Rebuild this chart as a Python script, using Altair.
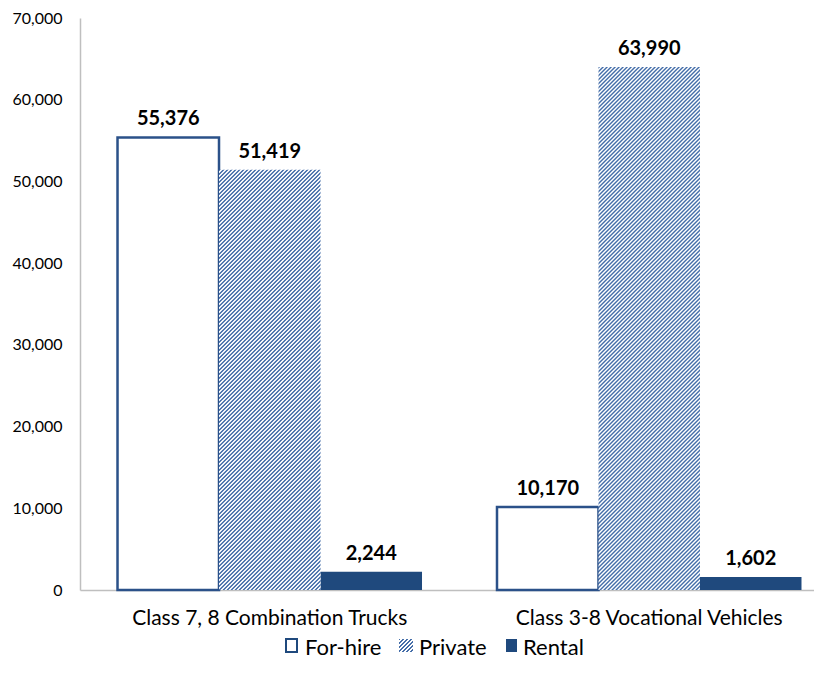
import altair as alt
import pandas as pd

categories = ["Class 7, 8 Combination Trucks", "Class 3-8 Vocational Vehicles"]
series = ["For-hire", "Private", "Rental"]
for_hire = [55376, 10170]
private = [51419, 63990]
rental = [2244, 1602]
y_ticks = [0, 10000, 20000, 30000, 40000, 50000, 60000, 70000]
y_max = 70000

W, H = 734, 572
P_IN, P_OUT, ALIGN = 0.1976, 0.0659, 0.75
DARK = "#1f497d"
OUTLINE = "#2b5189"
HATCH = "#456ea9"
FONT = "Lato"

rows = []
for i, c in enumerate(categories):
    for s, vals in zip(series, [for_hire, private, rental]):
        rows.append({"category": c, "series": s, "value": vals[i]})
df = pd.DataFrame(rows)


def hatch(w, h, period=4.0):
    # 45-degree "/" stripes: colour depends on (x + y) in pixels
    span = w + h
    s = span * w / (w * w + h * h)
    n = int(span / period) + 1
    stops = []
    for j in range(n + 1):
        base_px = j * period
        for frac, col in [(0.0, HATCH), (0.25, HATCH), (0.5, "white"), (0.75, "white")]:
            t = (base_px + frac * period) / span
            if t > 1:
                break
            stops.append({"offset": round(t, 6), "color": col})
    return {"gradient": "linear", "x1": 0, "y1": 0, "x2": s, "y2": s * h / w, "stops": stops}


x_enc = alt.X(
    "category:N",
    sort=categories,
    scale=alt.Scale(domain=categories, paddingInner=P_IN, paddingOuter=P_OUT, align=ALIGN),
    axis=alt.Axis(title=None),
)
xo_enc = alt.XOffset("series:N", scale=alt.Scale(domain=series, paddingInner=0, paddingOuter=0))
y_enc = alt.Y(
    "value:Q",
    scale=alt.Scale(domain=[0, y_max], nice=False),
    axis=alt.Axis(title=None, values=y_ticks, labelExpr="format(datum.value, ',')"),
)

base = alt.Chart(df).encode(x=x_enc, xOffset=xo_enc, y=y_enc)

bw = W * (1 - P_IN) / (2 - P_IN + 2 * P_OUT) / 3

layers = [
    base.transform_filter(alt.datum.series == "For-hire").mark_bar(
        fill="white", stroke=OUTLINE, strokeWidth=2.5),
    base.transform_filter(alt.datum.series == "Rental").mark_bar(fill=DARK),
]
for c, v in zip(categories, private):
    h = v / y_max * H
    layers.append(
        base.transform_filter((alt.datum.series == "Private") & (alt.datum.category == c))
        .mark_bar(fill=hatch(bw, h))
    )

layers.append(
    base.mark_text(font=FONT, fontWeight="bold", fontSize=20, baseline="bottom",
                   dy=-8, color="black").encode(text=alt.Text("value:Q", format=","))
)

# legend (layout positions in pixels, relative to the plot's top-left corner)
sym_x = [206, 319, 426]
sym_w = [11, 14, 11]
txt_x = [225, 339, 443]
sym_y0, sym_y1 = 621, 634
legend_fills = ["white", hatch(14, 13), DARK]
for s, sx, sw, tx, f in zip(series, sym_x, sym_w, txt_x, legend_fills):
    ld = alt.Data(values=[{"label": s}])
    if s == "For-hire":
        sym = alt.Chart(ld).mark_rect(fill=f, stroke=DARK, strokeWidth=2)
    else:
        sym = alt.Chart(ld).mark_rect(fill=f)
    layers.append(sym.encode(x=alt.value(sx), x2=alt.value(sx + sw),
                             y=alt.value(sym_y0), y2=alt.value(sym_y1)))
    layers.append(
        alt.Chart(ld).mark_text(font=FONT, fontSize=22, align="left", baseline="alphabetic",
                                color="black")
        .encode(text="label:N", x=alt.value(tx), y=alt.value(637))
    )

chart = (
    alt.layer(*layers)
    .properties(
        width=W, height=H,
        autosize=alt.AutoSizeParams(type="none"),
        padding={"left": 72, "top": 10, "right": 0, "bottom": 70},
    )
    .configure_view(stroke=None)
    .configure_axis(grid=False, ticks=False, domainColor="#bfbfbf", domainWidth=1.5,
                    labelFont=FONT, labelColor="black", title=None)
    .configure_axisX(labelFontSize=21, labelPadding=17, labelLimit=0, labelAngle=0)
    .configure_axisY(labelFontSize=16, labelPadding=18)
)

chart.save("out.html", embed_options={"renderer": "svg", "actions": False})
